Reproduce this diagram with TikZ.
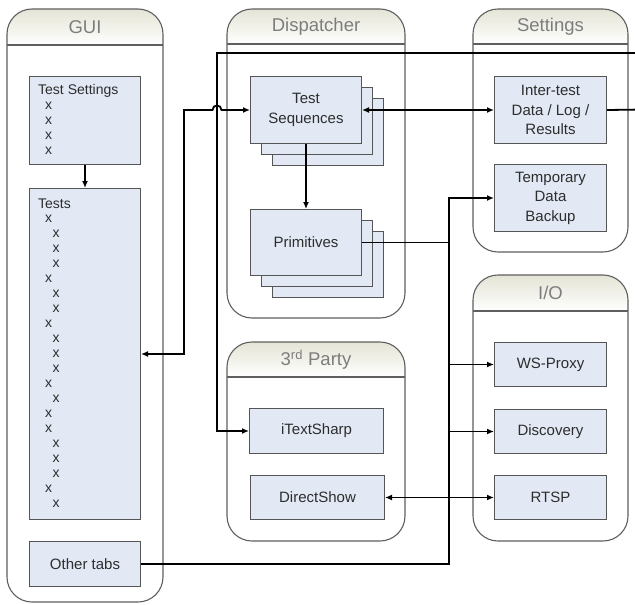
\documentclass[tikz,border=0pt]{standalone}
\usepackage{fontspec}
\setmainfont{Liberation Sans}
\usetikzlibrary{arrows.meta,calc}

\definecolor{boxfill}{RGB}{226,233,245}
\definecolor{boxline}{RGB}{85,85,85}
\definecolor{frameline}{RGB}{95,95,95}
\definecolor{headtop}{RGB}{228,228,214}
\definecolor{headtext}{RGB}{125,125,125}
\definecolor{boxtext}{RGB}{45,45,45}

\tikzset{
  blk/.style={draw=boxline, fill=boxfill, line width=1pt, text=boxtext,
    font=\fontsize{15}{19.5}\selectfont, align=center, inner sep=0pt,
    anchor=north west},
  listtxt/.style={text=boxtext, font=\fontsize{14}{15}\selectfont,
    inner sep=0pt, anchor=base west},
  headlbl/.style={text=headtext, font=\fontsize{18.5}{22}\selectfont, inner sep=0pt},
  frame/.style={draw=frameline, line width=1.1pt},
  wire/.style={line width=1.8pt, draw=black},
  conn/.style={wire, -{Latex[length=7pt,width=6pt]}},
  conn2/.style={wire, {Latex[length=7pt,width=6pt]}-{Latex[length=7pt,width=6pt]}},
}

% swimlane: name, x1, y1, x2, y2, header line y, title
\newcommand\swimlane[7]{%
  \begin{scope}
    \clip[rounded corners=25pt] (#2,#3) rectangle (#4,#5);
    \shade[top color=headtop, bottom color=white] (#2,#3) rectangle (#4,#6);
  \end{scope}
  \draw[frame, rounded corners=25pt] (#2,#3) rectangle (#4,#5);
  \draw[frame] (#2,#6) -- (#4,#6);
  \node[headlbl] (#1) at ({(#2+#4)/2},{(#3+#6)/2}) {#7};
}

\begin{document}
\begin{tikzpicture}[x=1pt,y=-1pt]
  \useasboundingbox (0,0) rectangle (635,605);
  \clip (0,0) rectangle (635,605);
  \fill[white] (0,0) rectangle (635,605);

  % containers
  \swimlane{guiHd}{7}{9}{163}{602}{45}{GUI}
  \swimlane{dispHd}{227}{9}{405}{318}{44}{Dispatcher}
  \swimlane{settHd}{473}{9}{628}{252}{44}{Settings}
  \swimlane{ioHd}{473}{275}{628}{541}{311}{I/O}
  \swimlane{thirdHd}{227}{342}{405}{541}{377}{3\textsuperscript{rd} Party}

  % GUI
  \node[blk, minimum width=111pt, minimum height=88pt] (tset) at (29,76) {};
  \node[listtxt] (tsetTitle) at (38,94) {Test Settings};
  \foreach \k in {1,...,4}
    \node[listtxt] (tsx\k) at (45,{109+15*(\k-1)}) {x};

  \node[blk, minimum width=111pt, minimum height=331pt] (tests) at (29,188) {};
  \node[listtxt] (testsTitle) at (38,208) {Tests};
  \foreach \ind [count=\k] in {1,2,2,2,1,2,2,1,2,2,2,1,2,1,1,2,2,2,1,2}
    \node[listtxt] (tx\k) at ({45+7.5*(\ind-1)},{222+15*(\k-1)}) {x};

  \node[blk, minimum width=111pt, minimum height=45pt] (other) at (29,541) {Other tabs};

  % Dispatcher
  \node[blk, minimum width=111pt, minimum height=67pt] (tseqC) at (272,98) {};
  \node[blk, minimum width=111pt, minimum height=67pt] (tseqB) at (261,87) {};
  \node[blk, minimum width=111pt, minimum height=67pt] (tseq) at (250,76) {Test\\Sequences};

  \node[blk, minimum width=111pt, minimum height=66pt] (primC) at (272,231) {};
  \node[blk, minimum width=111pt, minimum height=66pt] (primB) at (261,220) {};
  \node[blk, minimum width=111pt, minimum height=66pt] (prim) at (250,209) {Primitives};

  % Settings
  \node[blk, minimum width=112pt, minimum height=67pt] (inter) at (494,76) {Inter-test\\Data / Log /\\Results};
  \node[blk, minimum width=112pt, minimum height=67pt] (temp) at (494,164) {Temporary\\Data\\Backup};

  % I/O
  \node[blk, minimum width=112pt, minimum height=44pt] (ws) at (494,342) {WS-Proxy};
  \node[blk, minimum width=112pt, minimum height=44pt] (disc) at (494,409) {Discovery};
  \node[blk, minimum width=112pt, minimum height=44pt] (rtsp) at (494,475) {RTSP};

  % 3rd party
  \node[blk, minimum width=134pt, minimum height=45pt] (itext) at (249,408) {iTextSharp};
  \node[blk, minimum width=134pt, minimum height=44pt] (dshow) at (250,475) {DirectShow};

  % connectors
  \coordinate (gx) at (184,0);
  \coordinate (vx) at (217,0);
  \coordinate (busx) at (449,0);

  \draw[conn] (tset.south) -- (tests.north);
  \draw[conn] (tseq.south) -- (prim.north);
  \draw[conn2] (tseq.east) -- (inter.west);

  % settings feed to the third-party library
  \draw[conn] (inter.east) -- (645,109.5) -- (645,53) -- (vx |- 0,53)
    -- (vx |- itext.west) -- (itext.west);

  % GUI tests to sequences, hopping over the vertical feed
  \draw[conn2] (tests.east) -- (tests.east -| gx) -- (gx |- tseq.west)
    -- ($(vx |- tseq.west)+(-4.5,0)$)
    .. controls ($(vx |- tseq.west)+(-4.5,-6)$) and ($(vx |- tseq.west)+(4.5,-6)$)
    .. ($(vx |- tseq.west)+(4.5,0)$) -- (tseq.west);

  % I/O bus
  \draw[conn] (other.east) -- (other.east -| busx) -- (temp.west -| busx) -- (temp.west);
  \draw[wire] (prim.east) -- (prim.east -| busx);
  \draw[conn] (ws.west -| busx) -- (ws.west);
  \draw[conn] (disc.west -| busx) -- (disc.west);
  \draw[conn2] (dshow.east) -- (rtsp.west);
\end{tikzpicture}
\end{document}
